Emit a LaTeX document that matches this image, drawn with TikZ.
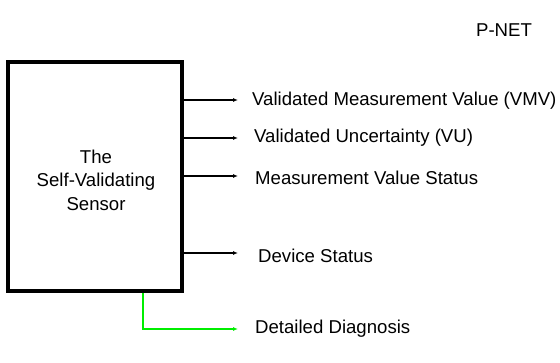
\documentclass[tikz,border=0pt]{standalone}
\usepackage{fontspec}
\setmainfont{Liberation Sans}
\usetikzlibrary{arrows.meta}
\definecolor{diaggreen}{RGB}{0,238,0}
\begin{document}
\begin{tikzpicture}[x=1pt,y=-1pt,
  lbl/.style={anchor=west,inner sep=0pt,font=\fontsize{18.6}{23}\selectfont},
  outarrow/.style={line width=1.6pt,-{Latex[length=5pt,width=4pt]}},
  sensor/.style={draw,line width=3.5pt,minimum width=174pt,minimum height=229pt,inner sep=0pt},
  sensortext/.style={inner sep=0pt,align=center,font=\fontsize{18.6}{23.5}\selectfont}]
\useasboundingbox (0,0) rectangle (560,362);
\node[sensor] (box) at (95,176.5) {};
\node[sensortext] (boxtext) at (96,180) {The\\Self-Validating\\Sensor};
\node[lbl,anchor=center] (pnet) at (504,30) {P-NET};
\coordinate (e1) at (238,100);
\coordinate (e2) at (238,138);
\coordinate (e3) at (238,176);
\coordinate (e4) at (238,253);
\coordinate (e5) at (238,329);
\coordinate (g0) at (143,291);
\node[lbl] (l1) at (252,101) {Validated Measurement Value (VMV)};
\node[lbl] (l2) at (254,137.5) {Validated Uncertainty (VU)};
\node[lbl] (l3) at (255,178) {Measurement Value Status};
\node[lbl] (l4) at (258,256) {Device Status};
\node[lbl] (l5) at (255,329) {Detailed Diagnosis};
\draw[outarrow] (box.east |- e1) -- (e1);
\draw[outarrow] (box.east |- e2) -- (e2);
\draw[outarrow] (box.east |- e3) -- (e3);
\draw[outarrow] (box.east |- e4) -- (e4);
\draw[outarrow,diaggreen] (g0 |- box.south) |- (e5);
\end{tikzpicture}
\end{document}
